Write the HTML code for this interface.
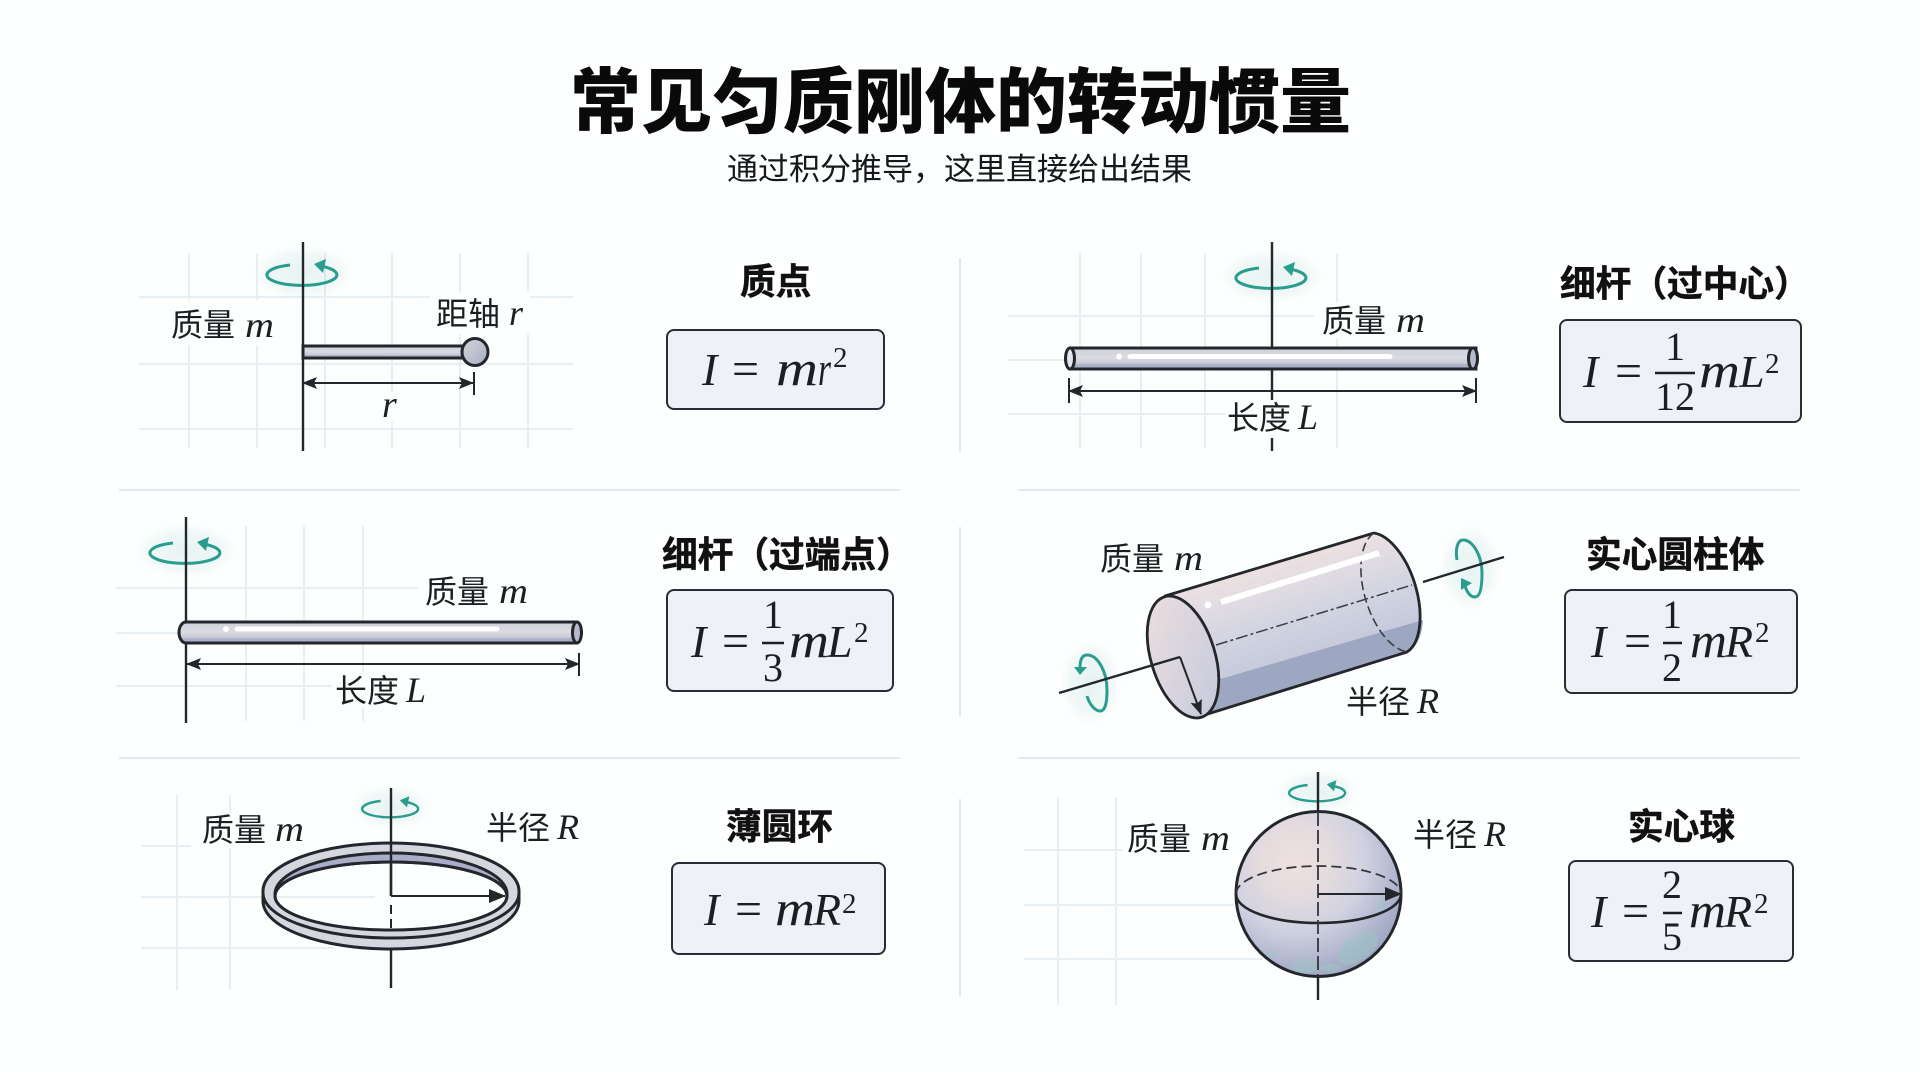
<!DOCTYPE html>
<html lang="zh"><head><meta charset="utf-8"><title>常见匀质刚体的转动惯量</title>
<style>
html,body{margin:0;padding:0;background:#fdfefe}
svg{display:block}
.c{font-family:"Liberation Sans","Noto Sans CJK SC",sans-serif;fill:#1c1e22}
.lb{font-size:32px}
.t{font-size:35.7px;font-weight:700;fill:#111;stroke:#111;stroke-width:.5px}
.i{font-family:"Liberation Serif",serif;font-style:italic;fill:#1c1e22}
.n{font-family:"Liberation Serif",serif;fill:#1c1e22}
.box{fill:#eef1f6;stroke:#2a2d33;stroke-width:2}
.g{stroke:#e8eff2;stroke-width:2;fill:none}
.d{stroke:#e3e8ee;stroke-width:2;fill:none}
.ax{stroke:#23262b;stroke-width:2.4;fill:none}
.dm{stroke:#23262b;stroke-width:2;fill:none}
.rod{stroke:#23262b;stroke-width:3}
</style></head><body>
<svg xmlns="http://www.w3.org/2000/svg" width="1920" height="1072" viewBox="0 0 1920 1072">
<defs>
<marker id="a" markerWidth="16" markerHeight="12" refX="14" refY="6" orient="auto-start-reverse" markerUnits="userSpaceOnUse"><path d="M0 0L15 6L0 12L3 6Z" fill="#23262b"/></marker>
<marker id="b" markerWidth="18" markerHeight="14" refX="16" refY="7" orient="auto" markerUnits="userSpaceOnUse"><path d="M0 0L17 7L0 14Z" fill="#23262b"/></marker>
<radialGradient id="glow"><stop offset="0" stop-color="#2a9d8f" stop-opacity=".11"/><stop offset=".7" stop-color="#2a9d8f" stop-opacity=".06"/><stop offset="1" stop-color="#2a9d8f" stop-opacity="0"/></radialGradient>
<g id="rot"><ellipse cx="0" cy="-2" rx="50" ry="27" fill="url(#glow)"/><path d="M-13 -10A35 10.5 0 1 0 20 -8.5" fill="none" stroke="#2a9d8f" stroke-width="3"/><path d="M11 -11L23 -16L20 -2Z" fill="#2a9d8f"/></g>
<linearGradient id="rg" x1="0" y1="0" x2="0" y2="1"><stop offset="0" stop-color="#cfcfd8"/><stop offset=".45" stop-color="#dadbe2"/><stop offset=".72" stop-color="#c9cbd7"/><stop offset=".8" stop-color="#aab1c9"/><stop offset="1" stop-color="#aab1c9"/></linearGradient>
<linearGradient id="cyl" x1="1250" y1="565" x2="1290" y2="695" gradientUnits="userSpaceOnUse"><stop offset="0" stop-color="#efe2e1"/><stop offset=".45" stop-color="#d3d5e2"/><stop offset="1" stop-color="#bcc1d6"/></linearGradient>
<linearGradient id="cf" x1="0" y1="0" x2=".7" y2="1"><stop offset="0" stop-color="#eee0df"/><stop offset="1" stop-color="#c8cbdd"/></linearGradient>
<radialGradient id="sp" cx=".36" cy=".3" r=".78"><stop offset="0" stop-color="#eee0df"/><stop offset=".25" stop-color="#e6dcde"/><stop offset=".55" stop-color="#cfd1e0"/><stop offset=".85" stop-color="#a9afc9"/><stop offset="1" stop-color="#9aa2be"/></radialGradient>
<linearGradient id="ball" x1="0" y1="0" x2="1" y2="1"><stop offset="0" stop-color="#d4d4d8"/><stop offset="1" stop-color="#a7adc5"/></linearGradient>
</defs>
<rect width="1920" height="1072" fill="#fdfefe"/>

<text class="c" x="570" y="127" font-size="71" font-weight="900" style="fill:#0a0a0a">常见匀质刚体的转动惯量</text>
<text class="c" x="727" y="180" font-size="31" style="fill:#16181c">通过积分推导，这里直接给出结果</text>

<!-- dividers -->
<path class="d" d="M119 490H900M1018 490H1800M119 758H900M1018 758H1800M960 258V452M960 527V717M960 799V997"/>

<!-- Panel 1 -->
<path class="g" d="M189 253V448M257 253V448M325 253V448M392 253V448M460 253V448M528 253V448M139 297H573M139 364H573M139 429H573"/>
<rect x="170" y="300" width="110" height="45" fill="#fdfefe"/><rect x="430" y="292" width="100" height="42" fill="#fdfefe"/><rect x="370" y="392" width="40" height="30" fill="#fdfefe"/>
<rect x="303" y="346" width="160" height="12" fill="url(#rg)" class="rod"/>
<ellipse cx="475" cy="352" rx="13" ry="13.5" fill="url(#ball)" class="rod"/>
<use href="#rot" x="303" y="275"/>
<path class="ax" d="M303 242V451"/>
<path class="dm" d="M303 383H473" marker-start="url(#a)" marker-end="url(#a)"/><path class="dm" d="M474 372V395"/>
<text class="c lb" x="171" y="336">质量</text><text class="i" x="245" y="337" font-size="36" textLength="29" lengthAdjust="spacingAndGlyphs">m</text>
<text class="c lb" x="436" y="325">距轴</text><text class="i" x="509" y="325" font-size="36">r</text>
<text class="i" x="382" y="417" font-size="38">r</text>
<text class="c t" x="740" y="294">质点</text>
<rect class="box" x="667" y="330" width="217" height="79" rx="7"/>
<text class="i" x="702" y="385" font-size="46">I</text><text class="n" x="732" y="385" font-size="48">=</text>
<text class="i" x="776" y="385" font-size="50" textLength="42" lengthAdjust="spacingAndGlyphs">m</text><text class="i" x="818" y="385" font-size="48" textLength="13" lengthAdjust="spacingAndGlyphs">r</text><text class="n" x="833" y="367" font-size="29">2</text>

<!-- Panel 2 -->
<path class="g" d="M1080 253V448M1141 253V448M1205 253V448M1337 253V448M1008 316H1314M1008 360H1068M1008 414H1228"/>
<rect x="1320" y="303" width="110" height="36" fill="#fdfefe"/>
<use href="#rot" x="1272" y="278"/>
<path class="ax" d="M1272 242V348M1272 369V402M1272 438V451"/>
<rect x="1070" y="348" width="406" height="21" fill="url(#rg)" class="rod"/>
<ellipse cx="1070" cy="358.5" rx="4.5" ry="10.5" fill="#e4e6ec" class="rod"/>
<ellipse cx="1473" cy="358.5" rx="4.5" ry="10.5" fill="#b5bacd" class="rod"/>
<path d="M1130 356.5H1390" stroke="#fff" stroke-width="5" stroke-linecap="round"/><circle cx="1119" cy="356.5" r="3" fill="#fff"/>
<path class="dm" d="M1069 391H1476" marker-start="url(#a)" marker-end="url(#a)"/><path class="dm" d="M1069 378V403M1476 378V403"/>
<text class="c lb" x="1322" y="332">质量</text><text class="i" x="1396" y="332" font-size="36" textLength="29" lengthAdjust="spacingAndGlyphs">m</text>
<rect x="1225" y="400" width="95" height="36" fill="#fdfefe"/>
<text class="c lb" x="1227" y="429">长度</text><text class="i" x="1298" y="429" font-size="36">L</text>
<text class="c t" x="1560" y="296">细杆（过中心）</text>
<rect class="box" x="1560" y="320" width="241" height="102" rx="7"/>
<text class="i" x="1583" y="387" font-size="46">I</text><text class="n" x="1615" y="387" font-size="48">=</text>
<path d="M1655 373H1695" stroke="#1c1e22" stroke-width="2.5"/>
<text class="n" x="1675" y="360" font-size="40" text-anchor="middle">1</text><text class="n" x="1675" y="410" font-size="40" text-anchor="middle">12</text>
<text class="i" x="1699" y="387" font-size="50" textLength="41" lengthAdjust="spacingAndGlyphs">m</text><text class="i" x="1739" y="387" font-size="46">L</text><text class="n" x="1765" y="373" font-size="29">2</text>

<!-- Panel 3 -->
<path class="g" d="M246 526V721M304 526V721M363 526V721M116 588H418M116 633H186M116 686H332"/>
<use href="#rot" x="186" y="553"/>
<path class="ax" d="M186 517V723"/>
<path d="M186 622H576A4.5 10.5 0 0 1 576 643H186A7 10.5 0 0 1 186 622Z" fill="url(#rg)" class="rod"/>
<ellipse cx="577" cy="632.5" rx="4.5" ry="10.5" fill="#b5bacd" class="rod"/>
<path d="M237 629H497" stroke="#fff" stroke-width="5" stroke-linecap="round"/><circle cx="226" cy="629" r="3" fill="#fff"/>
<path class="dm" d="M187 664H579" marker-start="url(#a)" marker-end="url(#a)"/><path class="dm" d="M579 653V676"/>
<text class="c lb" x="425" y="603">质量</text><text class="i" x="499" y="603" font-size="36" textLength="29" lengthAdjust="spacingAndGlyphs">m</text>
<rect x="332" y="672" width="95" height="36" fill="#fdfefe"/>
<text class="c lb" x="335" y="702">长度</text><text class="i" x="406" y="702" font-size="36">L</text>
<text class="c t" x="662" y="567">细杆（过端点）</text>
<rect class="box" x="667" y="590" width="226" height="101" rx="7"/>
<text class="i" x="691" y="657" font-size="46">I</text><text class="n" x="722" y="657" font-size="48">=</text>
<path d="M762 643H784" stroke="#1c1e22" stroke-width="2.5"/>
<text class="n" x="773" y="628" font-size="40" text-anchor="middle">1</text><text class="n" x="773" y="681" font-size="40" text-anchor="middle">3</text>
<text class="i" x="789" y="657" font-size="50" textLength="40" lengthAdjust="spacingAndGlyphs">m</text><text class="i" x="827" y="657" font-size="46">L</text><text class="n" x="854" y="642" font-size="29">2</text>

<!-- Panel 4 -->
<ellipse cx="1091" cy="683" rx="30" ry="42" fill="url(#glow)"/><ellipse cx="1470" cy="568" rx="30" ry="42" fill="url(#glow)"/>
<path d="M1087 696C1090 706 1096 711 1100 711C1106 711 1107 700 1107 690C1107 672 1098 655 1087 655C1082 655 1080 660 1080 668" fill="none" stroke="#2a9d8f" stroke-width="3"/><path d="M1080 675L1074 667L1087 667Z" fill="#2a9d8f"/>
<path d="M1457 560C1455 548 1458 540 1463 540C1473 540 1482 556 1482 573C1482 588 1480 597 1475 597C1470 597 1467 592 1465 586" fill="none" stroke="#2a9d8f" stroke-width="3"/><path d="M1461 578L1461 590L1472 583Z" fill="#2a9d8f"/>
<path class="ax" d="M1423 582L1504 557"/>
<path d="M1165 596L1374 533A32 63 -17 0 1 1407 652L1198 717Z" fill="url(#cyl)"/>
<path d="M1210 682L1423 620A32 63 -17 0 1 1407 652L1198 717Z" fill="#9ea7c2"/>
<path d="M1165 596L1374 533A32 63 -17 0 1 1407 652L1198 717Z" fill="none" stroke="#23262b" stroke-width="2.8" stroke-linejoin="round"/>
<ellipse cx="1183" cy="657" rx="32" ry="63" transform="rotate(-17 1183 657)" fill="url(#cf)" stroke="#23262b" stroke-width="2.8"/>
<path d="M1374 533A32 63 -17 0 0 1407 652" fill="none" stroke="#3a3d44" stroke-width="1.6" stroke-dasharray="9 4"/>
<path d="M1216 645L1412 585" stroke="#3a3d44" stroke-width="1.5" stroke-dasharray="12 3 3 3" fill="none"/>
<path d="M1221 602L1379 553" stroke="#fff" stroke-width="6"/><circle cx="1208" cy="605" r="3.5" fill="#fff"/>
<path class="ax" d="M1059 693L1180 657"/>
<path class="dm" d="M1180 657L1201 714" stroke-width="2.6" marker-end="url(#a)"/>
<text class="c lb" x="1100" y="570">质量</text><text class="i" x="1174" y="570" font-size="36" textLength="29" lengthAdjust="spacingAndGlyphs">m</text>
<text class="c lb" x="1346" y="713">半径</text><text class="i" x="1417" y="713" font-size="36">R</text>
<text class="c t" x="1586" y="567">实心圆柱体</text>
<rect class="box" x="1565" y="590" width="232" height="103" rx="7"/>
<text class="i" x="1591" y="657" font-size="46">I</text><text class="n" x="1624" y="657" font-size="48">=</text>
<path d="M1663 643H1682" stroke="#1c1e22" stroke-width="2.5"/>
<text class="n" x="1672" y="628" font-size="40" text-anchor="middle">1</text><text class="n" x="1672" y="681" font-size="40" text-anchor="middle">2</text>
<text class="i" x="1690" y="657" font-size="50" textLength="37" lengthAdjust="spacingAndGlyphs">m</text><text class="i" x="1725" y="657" font-size="46">R</text><text class="n" x="1755" y="642" font-size="29">2</text>

<!-- Panel 5 -->
<path class="g" d="M177 795V990M230 795V990M141 846H191M141 897H375M141 948H334"/>
<rect x="200" y="812" width="108" height="36" fill="#fdfefe"/>
<use href="#rot" x="391" y="809" transform="translate(78.2 161.8) scale(.8)"/>
<path class="ax" d="M391 788V896M391 950V988"/>
<path d="M391 905V928" stroke="#23262b" stroke-width="2" stroke-dasharray="9 5"/>
<!-- outer lower body -->
<path fill-rule="evenodd" d="M263 891A128 48 0 0 1 519 891V901A128 48 0 0 1 263 901ZM275 896A116 34 0 0 0 507 896A116 34 0 0 0 275 896Z" fill="#d6d6df" stroke="#23262b" stroke-width="3"/>
<!-- inner blue wall -->
<path d="M275 894A116 42 0 0 1 507 894A116 33 0 0 0 275 894Z" fill="#a8aec8"/>
<path d="M275 894A116 41 0 0 1 507 894" fill="none" stroke="#23262b" stroke-width="3"/>
<path d="M275 896A116 34 0 0 1 507 896" fill="none" stroke="#23262b" stroke-width="3"/>
<!-- mid edge -->
<path d="M263 893A128 45 0 0 0 519 893" fill="none" stroke="#23262b" stroke-width="3"/>
<path class="ax" d="M391 843V896"/>
<path class="dm" d="M391 896H505" stroke-width="2.6" marker-end="url(#b)"/>
<text class="c lb" x="202" y="841">质量</text><text class="i" x="275" y="841" font-size="36" textLength="29" lengthAdjust="spacingAndGlyphs">m</text>
<text class="c lb" x="486" y="839">半径</text><text class="i" x="557" y="839" font-size="36">R</text>
<text class="c t" x="726" y="839">薄圆环</text>
<rect class="box" x="672" y="863" width="213" height="91" rx="7"/>
<text class="i" x="704" y="925" font-size="46">I</text><text class="n" x="735" y="925" font-size="48">=</text>
<text class="i" x="775" y="925" font-size="50" textLength="40" lengthAdjust="spacingAndGlyphs">m</text><text class="i" x="813" y="925" font-size="46">R</text><text class="n" x="842" y="913" font-size="29">2</text>

<!-- Panel 6 -->
<path class="g" d="M1058 797V1005M1116 797V1005M1024 850H1123M1024 905H1234M1024 959H1263"/>
<rect x="1125" y="822" width="108" height="36" fill="#fdfefe"/>
<use href="#rot" x="1318" y="793" transform="translate(263.6 158.6) scale(.8)"/>
<path class="ax" d="M1318 772V812M1318 977V1000"/>
<circle cx="1318.5" cy="894" r="82.5" fill="url(#sp)" stroke="#23262b" stroke-width="3"/>
<g fill="#9cc5c6" opacity=".55"><ellipse cx="1358" cy="948" rx="23" ry="12" transform="rotate(-35 1358 948)"/><ellipse cx="1305" cy="966" rx="13" ry="7"/><ellipse cx="1330" cy="968" rx="10" ry="4"/><ellipse cx="1271" cy="954" rx="5" ry="3"/><ellipse cx="1382" cy="905" rx="5" ry="4"/></g>
<path d="M1236 894A82.5 29 0 0 0 1401 894" fill="none" stroke="#23262b" stroke-width="2.6"/>
<path d="M1236 894A82.5 28 0 0 1 1401 894" fill="none" stroke="#33363c" stroke-width="1.8" stroke-dasharray="10 5"/>
<path d="M1318 812V977" stroke="#33363c" stroke-width="1.8" stroke-dasharray="14 4" fill="none"/>
<path class="dm" d="M1318 894H1401" stroke-width="2.6" marker-end="url(#b)"/>
<text class="c lb" x="1127" y="850">质量</text><text class="i" x="1201" y="850" font-size="36" textLength="29" lengthAdjust="spacingAndGlyphs">m</text>
<text class="c lb" x="1413" y="846">半径</text><text class="i" x="1484" y="846" font-size="36">R</text>
<text class="c t" x="1628" y="839">实心球</text>
<rect class="box" x="1569" y="861" width="224" height="100" rx="7"/>
<text class="i" x="1591" y="927" font-size="46">I</text><text class="n" x="1622" y="927" font-size="48">=</text>
<path d="M1663 913H1682" stroke="#1c1e22" stroke-width="2.5"/>
<text class="n" x="1672" y="898" font-size="40" text-anchor="middle">2</text><text class="n" x="1672" y="950" font-size="40" text-anchor="middle">5</text>
<text class="i" x="1689" y="927" font-size="50" textLength="37" lengthAdjust="spacingAndGlyphs">m</text><text class="i" x="1724" y="927" font-size="46">R</text><text class="n" x="1754" y="913" font-size="29">2</text>
</svg>
</body></html>
